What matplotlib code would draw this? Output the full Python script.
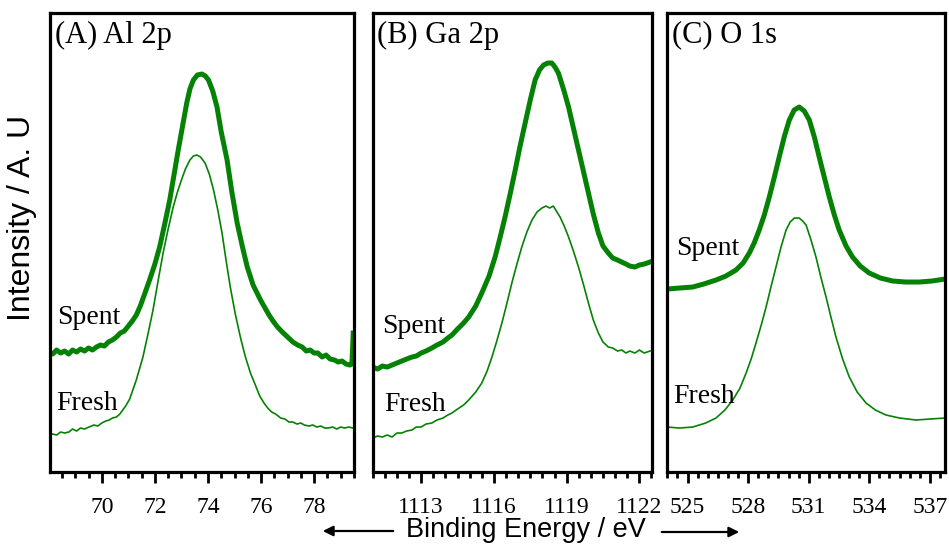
import matplotlib.pyplot as plt
from matplotlib.ticker import MultipleLocator

# Al 2p
al_e_spent = [68.0, 68.15, 68.3, 68.45, 68.6, 68.75, 68.9, 69.05, 69.2, 69.35, 69.5, 69.65, 69.8, 69.95,
              70.1, 70.25, 70.4, 70.55, 70.7, 70.85, 71.0, 71.15, 71.3, 71.45, 71.6, 71.8, 72.0, 72.18,
              72.37, 72.56, 72.72, 72.88, 73.05, 73.2, 73.32, 73.45, 73.6, 73.77, 73.9, 74.02, 74.18,
              74.34, 74.5, 74.72, 74.9, 75.1, 75.3, 75.48, 75.7, 75.98, 76.15, 76.3, 76.45, 76.62, 76.8,
              77.0, 77.2, 77.38, 77.55, 77.7, 77.85, 78.0, 78.14, 78.3, 78.45, 78.6, 78.77, 78.9, 79.05,
              79.2, 79.34, 79.42, 79.45, 79.47]
al_spent = [120, 118, 122, 119, 121, 118, 122, 120, 123, 121, 124, 122, 125, 127,
            126, 130, 132, 135, 139, 141, 146, 151, 157, 166, 177, 192, 208, 225,
            248, 272, 297, 322, 347, 369, 383, 392, 397, 398, 396, 392, 381,
            365, 340, 312, 280, 249, 225, 205, 187, 172, 164, 157, 151, 145, 140,
            135, 130, 127, 125, 121, 122, 119, 119, 115, 117, 113, 112, 110, 111,
            108, 107, 108, 125, 139]
al_e_fresh = [68.0, 68.15, 68.3, 68.45, 68.6, 68.76, 68.9, 69.05, 69.2, 69.35, 69.52, 69.7, 69.85, 70.0,
              70.15, 70.28, 70.4, 70.55, 70.68, 70.79, 70.9, 71.05, 71.17, 71.3, 71.42, 71.55, 71.74,
              71.93, 72.12, 72.31, 72.5, 72.69, 72.85, 73.0, 73.15, 73.32, 73.45, 73.58, 73.72, 73.89,
              74.05, 74.21, 74.37, 74.53, 74.68, 74.84, 75.03, 75.22, 75.4, 75.6, 75.8, 75.95, 76.11,
              76.25, 76.4, 76.55, 76.74, 76.9, 77.05, 77.2, 77.35, 77.5, 77.63, 77.8, 77.95, 78.1, 78.25,
              78.4, 78.52, 78.7, 78.85, 79.0, 79.15, 79.3, 79.47]
al_fresh = [37, 38, 37, 40, 39, 40, 43, 41, 44, 43, 45, 47, 46, 49,
            51, 52, 54, 55, 58, 62, 66, 73, 82, 92, 103, 115, 138,
            162, 191, 219, 243, 265, 280, 292, 303, 312, 316, 317, 315, 309,
            298, 282, 262, 239, 212, 185, 158, 135, 116, 99, 86, 76, 69,
            64, 60, 58, 54, 53, 50, 50, 48, 49, 47, 46, 47, 45, 46,
            44, 44, 45, 43, 45, 44, 45, 44]

# Ga 2p
ga_e_spent = [1111.0, 1111.2, 1111.4, 1111.6, 1111.8, 1112.0, 1112.2, 1112.4, 1112.62, 1112.8, 1113.0,
              1113.2, 1113.44, 1113.65, 1113.9, 1114.1, 1114.27, 1114.5, 1114.75, 1114.96, 1115.25,
              1115.5, 1115.8, 1116.05, 1116.25, 1116.46, 1116.67, 1116.88, 1117.08, 1117.29, 1117.5,
              1117.7, 1117.88, 1118.05, 1118.22, 1118.39, 1118.52, 1118.66, 1118.87, 1119.08, 1119.28,
              1119.49, 1119.7, 1119.9, 1120.1, 1120.31, 1120.5, 1120.72, 1120.9, 1121.1, 1121.27,
              1121.45, 1121.6, 1121.82, 1122.0, 1122.2, 1122.44]
ga_spent = [105, 103, 106, 105, 107, 109, 111, 113, 115, 116, 119,
            121, 124, 127, 130, 134, 137, 143, 149, 155, 166,
            179, 196, 215, 234, 255, 278, 302, 326, 349, 372,
            392, 402, 407, 409, 409, 405, 399, 383, 365, 344,
            322, 300, 279, 258, 239, 226, 219, 214, 212, 210,
            208, 206, 205, 207, 208, 210]
ga_e_fresh = [1111.0, 1111.2, 1111.4, 1111.6, 1111.8, 1112.0, 1112.2, 1112.4, 1112.62, 1112.8, 1113.0,
              1113.2, 1113.44, 1113.65, 1113.9, 1114.1, 1114.27, 1114.5, 1114.75, 1114.96, 1115.25,
              1115.5, 1115.72, 1115.92, 1116.12, 1116.33, 1116.54, 1116.74, 1116.95, 1117.15, 1117.36,
              1117.57, 1117.78, 1117.98, 1118.15, 1118.3, 1118.45, 1118.6, 1118.73, 1118.9, 1119.08,
              1119.28, 1119.49, 1119.7, 1119.9, 1120.1, 1120.31, 1120.5, 1120.72, 1120.9, 1121.1,
              1121.27, 1121.45, 1121.6, 1121.82, 1122.0, 1122.2, 1122.44]
ga_fresh = [34, 36, 35, 37, 35, 39, 39, 41, 42, 45, 45,
            48, 49, 52, 54, 57, 59, 63, 67, 72, 80,
            89, 101, 115, 131, 149, 169, 189, 208, 225, 240,
            252, 260, 264, 266, 264, 266, 260, 255, 246, 235,
            221, 205, 187, 169, 152, 139, 130, 125, 124, 121,
            122, 119, 121, 119, 122, 119, 121]

# O 1s
o_e_spent = [524.0, 524.6, 525.26, 525.8, 526.41, 526.9, 527.4, 527.75, 528.06, 528.3, 528.55, 528.8,
             529.05, 529.3, 529.54, 529.8, 530.04, 530.28, 530.53, 530.78, 531.03, 531.28, 531.52,
             531.77, 532.02, 532.27, 532.51, 532.85, 533.17, 533.55, 534.0, 534.55, 535.16, 535.8,
             536.47, 537.1, 537.75]
o_spent = [183, 184, 185, 188, 192, 196, 202, 209, 219, 229, 242, 257,
           275, 295, 315, 336, 352, 362, 365, 361, 352, 335, 315,
           295, 275, 257, 242, 226, 215, 206, 199, 194, 191, 190,
           190, 191, 193]
o_e_fresh = [524.0, 524.6, 525.26, 525.9, 526.41, 526.85, 527.24, 527.6, 527.9, 528.15, 528.39, 528.65,
             528.89, 529.13, 529.38, 529.63, 529.88, 530.08, 530.29, 530.53, 530.7, 530.87, 531.1,
             531.36, 531.6, 531.86, 532.1, 532.35, 532.68, 533.01, 533.4, 533.84, 534.3, 534.83,
             535.5, 536.31, 537.0, 537.75]
o_fresh = [45, 44, 45, 49, 54, 62, 72, 84, 99, 113, 129, 147,
           165, 185, 205, 225, 242, 250, 254, 254, 251, 247, 233,
           215, 195, 175, 155, 135, 113, 95, 80, 69, 62, 57,
           54, 52, 53, 54]

titles = ['(A) Al 2p', '(B) Ga 2p', '(C) O 1s']
xlims = [(68.05, 79.5), (1111.0, 1122.52), (524.0, 537.75)]
major_steps = [2, 3, 3]
label_pos = [((68.3, 155), (68.3, 69)),
             ((1111.38, 146), (1111.46, 68)),
             ((524.43, 224), (524.28, 76))]

spectra = [(al_e_spent, al_spent, al_e_fresh, al_fresh),
           (ga_e_spent, ga_spent, ga_e_fresh, ga_fresh),
           (o_e_spent, o_spent, o_e_fresh, o_fresh)]

green = '#058205'
serif = 'Liberation Serif'
sans = 'Liberation Sans'

fig = plt.figure(figsize=(9.49, 5.45), dpi=100)
rects = [(0.0527, 0.1339, 0.3203, 0.8422),
         (0.3927, 0.1339, 0.2943, 0.8422),
         (0.7032, 0.1339, 0.2926, 0.8422)]

for i, rect in enumerate(rects):
    ax = fig.add_axes(rect)
    es, s, ef, f = spectra[i]
    ax.plot(es, s, color=green, lw=3.6, solid_joinstyle='round')
    ax.plot(ef, f, color=green, lw=1.2)
    ax.set_xlim(*xlims[i])
    ax.set_ylim(0, 459)
    ax.xaxis.set_major_locator(MultipleLocator(major_steps[i]))
    ax.xaxis.set_minor_locator(MultipleLocator(0.5))
    ax.tick_params(axis='x', which='major', direction='out', length=8, width=2, pad=10)
    ax.tick_params(axis='x', which='minor', direction='out', length=4.5, width=2)
    ax.tick_params(left=False, labelleft=False)
    for lab in ax.get_xticklabels():
        lab.set_fontfamily(serif)
        lab.set_fontsize(17)
    for sp in ax.spines.values():
        sp.set_linewidth(2.3)
    ax.text(0.016, 0.952, titles[i], transform=ax.transAxes, va='center', ha='left',
            fontfamily=serif, fontsize=22)
    (sx, sy), (fx, fy) = label_pos[i]
    ax.text(sx, sy, 'Spent', va='center', ha='left', fontfamily=serif, fontsize=20)
    ax.text(fx, fy, 'Fresh', va='center', ha='left', fontfamily=serif, fontsize=20)

fig.text(22 / 949, 1 - 218 / 545, 'Intensity / A. U', rotation=90, va='center', ha='center',
         fontfamily=sans, fontsize=23)
fig.text(526 / 949, 1 - 530 / 545, 'Binding Energy / eV', va='center', ha='center',
         fontfamily=sans, fontsize=19.5)

arrow = dict(arrowstyle='-|>', lw=1.6, color='black', mutation_scale=15)
fig.add_artist(plt.Annotation('', xy=(320 / 949, 1 - 531 / 545), xytext=(396 / 949, 1 - 531 / 545),
                              xycoords='figure fraction', arrowprops=arrow))
fig.add_artist(plt.Annotation('', xy=(742 / 949, 1 - 532 / 545), xytext=(659 / 949, 1 - 532 / 545),
                              xycoords='figure fraction', arrowprops=arrow))

fig.savefig('out.png', dpi=100)
